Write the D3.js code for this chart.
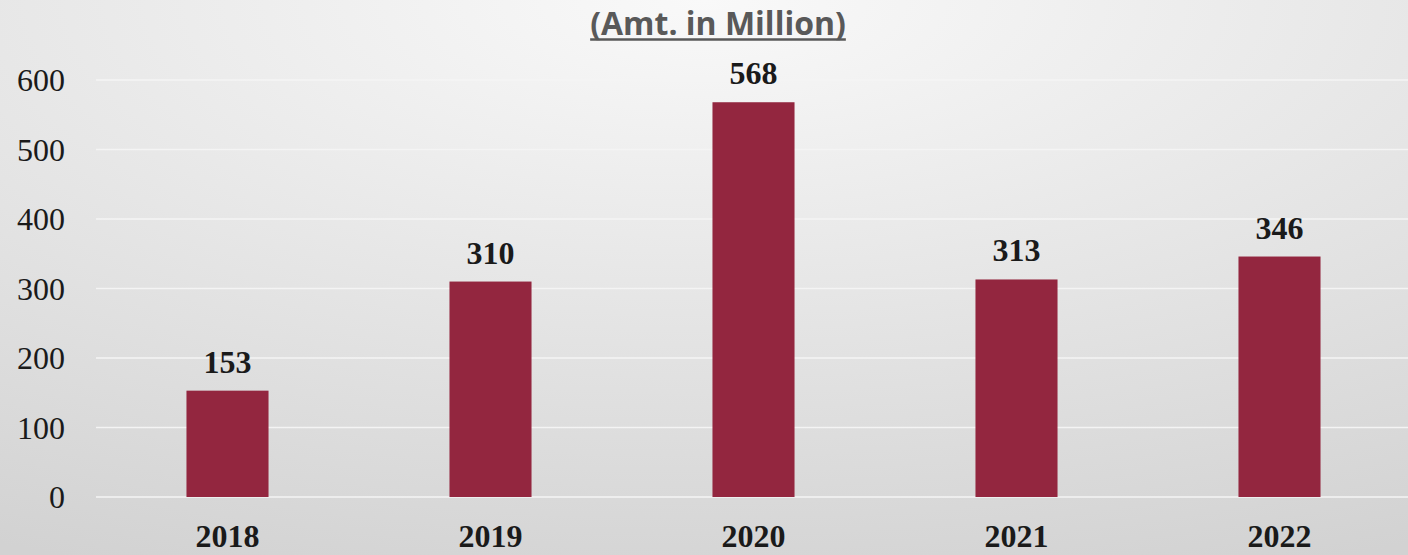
<!DOCTYPE html>
<html>
<head>
<meta charset="utf-8">
<script src="https://cdn.jsdelivr.net/npm/d3@7"></script>
<style>
  html, body { margin: 0; padding: 0; }
  body { width: 1408px; height: 555px; overflow: hidden; }
</style>
</head>
<body>
<script>
// Yearly amounts (in million)
const years = ["2018", "2019", "2020", "2021", "2022"];
const amounts = [153, 310, 568, 313, 346];
const yTicks = [0, 100, 200, 300, 400, 500, 600];
const titleText = "(Amt. in Million)";

const W = 1408, H = 555;
const margin = { left: 96, right: -3, top: 80, bottom: 58 };

const svg = d3.select("body").append("svg")
  .attr("width", W).attr("height", H);

// Soft radial background, light at the top centre
const defs = svg.append("defs");
const grad = defs.append("radialGradient")
  .attr("id", "bg").attr("cx", "50%").attr("cy", "0%")
  .attr("r", "110%").attr("fx", "50%").attr("fy", "0%");
grad.append("stop").attr("offset", "0%").attr("stop-color", "#f9f9f9");
grad.append("stop").attr("offset", "100%").attr("stop-color", "#d2d2d2");
svg.append("rect").attr("width", W).attr("height", H).attr("fill", "url(#bg)");

const x = d3.scaleBand()
  .domain(years)
  .range([margin.left, W - margin.right])
  .paddingInner(0.688).paddingOuter(0.344);

const y = d3.scaleLinear()
  .domain([0, 600])
  .range([497, 80]);

// Gridlines
svg.append("g")
  .selectAll("line")
  .data(yTicks)
  .join("line")
  .attr("x1", margin.left).attr("x2", W)
  .attr("y1", d => y(d)).attr("y2", d => y(d))
  .attr("stroke", "#f4f4f4").attr("stroke-width", 1.6);

// Y axis labels
const yAxis = d3.axisLeft(y).tickValues(yTicks).tickSize(0).tickPadding(0);
const gy = svg.append("g").attr("transform", "translate(65,0)").call(yAxis);
gy.select(".domain").remove();
gy.selectAll("text")
  .attr("font-family", "'Liberation Serif', serif")
  .attr("font-size", 32)
  .attr("fill", "#1a1a1a")
  .attr("dy", "0.34em");

// Bars
svg.append("g")
  .selectAll("rect")
  .data(amounts)
  .join("rect")
  .attr("x", (d, i) => x(years[i]))
  .attr("width", x.bandwidth())
  .attr("y", d => y(d))
  .attr("height", d => y(0) - y(d))
  .attr("fill", "#93263f");

// Value labels
svg.append("g")
  .selectAll("text")
  .data(amounts)
  .join("text")
  .attr("x", (d, i) => x(years[i]) + x.bandwidth() / 2)
  .attr("y", d => y(d) - 18)
  .attr("text-anchor", "middle")
  .attr("font-family", "'Liberation Serif', serif")
  .attr("font-weight", "bold")
  .attr("font-size", 32)
  .attr("fill", "#1a1a1a")
  .text(d => d);

// X axis labels
const xAxis = d3.axisBottom(x).tickSize(0).tickPadding(0);
const gx = svg.append("g").attr("transform", "translate(0,547)").call(xAxis);
gx.select(".domain").remove();
gx.selectAll("text")
  .attr("font-family", "'Liberation Serif', serif")
  .attr("font-weight", "bold")
  .attr("font-size", 32)
  .attr("fill", "#1a1a1a")
  .attr("dy", 0);

// Title with a drawn underline
const title = svg.append("text")
  .attr("x", 718).attr("y", 35)
  .attr("text-anchor", "middle")
  .attr("font-family", "'Open Sans', sans-serif")
  .attr("font-weight", "bold")
  .attr("font-size", 32)
  .attr("fill", "#595959")
  .text(titleText);
const tw = title.node().getComputedTextLength();
svg.append("line")
  .attr("x1", 718 - tw / 2).attr("x2", 718 + tw / 2)
  .attr("y1", 39.5).attr("y2", 39.5)
  .attr("stroke", "#595959").attr("stroke-width", 2.5);
</script>
</body>
</html>
